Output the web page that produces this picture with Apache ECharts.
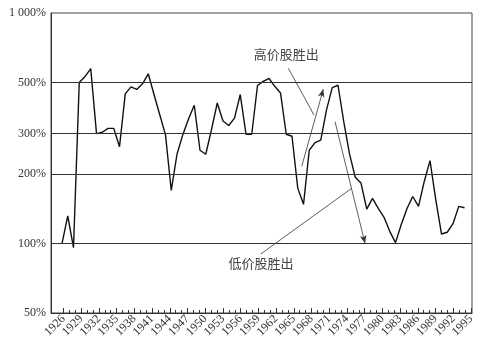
<!DOCTYPE html>
<html>
<head>
<meta charset="utf-8">
<script src="https://cdn.jsdelivr.net/npm/echarts@6/dist/echarts.min.js"></script>
<style>html,body{margin:0;padding:0;background:#fff;}#c{width:490px;height:346px;}</style>
</head>
<body>
<div id="c"></div>
<script>
// Data: ratio (%) by year
var years = [1926,1927,1928,1929,1930,1931,1932,1933,1934,1935,1936,1937,1938,1939,1940,1941,1942,1943,1944,1945,
  1946,1947,1948,1949,1950,1951,1952,1953,1954,1955,1956,1957,1958,1959,1960,1961,1962,1963,1964,1965,
  1966,1967,1968,1969,1970,1971,1972,1973,1974,1975,1976,1977,1978,1979,1980,1981,1982,1983,1984,1985,
  1986,1987,1988,1989,1990,1991,1992,1993,1994,1995,1996];
var values = [100,132,96,500,530,574,300,304,316,316,263,446,478,466,493,545,443,362,296,170,
  244,296,347,398,254,244,312,407,340,325,350,443,298,298,485,505,520,481,450,298,
  292,174,148,254,274,281,380,475,486,338,245,194,183,141,157,142,130,113,101,121,
  142,160,145,186,229,155,110,112,122,145,143];
var tickYears = [1926,1927,1928,1929,1930,1931,1932,1933,1934,1935,1936,1937,1938,1939,1940,1941,1942,1943,1944,1945,
  1946,1947,1948,1949,1950,1951,1952,1953,1954,1955,1956,1957,1958,1959,1960,1961,1962,1963,1964,1965,
  1966,1967,1968,1969,1970,1971,1972,1973,1974,1975,1976,1977,1978,1979,1980,1981,1982,1983,1984,1985,
  1986,1987,1988,1989,1990,1991,1992,1993,1994,1995];
var labelYears = [1926,1929,1932,1935,1938,1941,1944,1947,1950,1953,1956,1959,1962,1965,1968,1971,1974,1977,1980,1983,1986,1989,1992,1995];
var yTickValues = [50,100,200,300,500,1000];
var gridValues = [100,200,300,500];
var annotHigh = {text:'高价股胜出', at:[1965.0,664], leader:[[1965.36,576],[1969.83,361]], arrow:[[1967.69,216],[1971.44,467]]};
var annotLow = {text:'低价股胜出', at:[1960.6,82.4], leader:[[1960.56,90.1],[1976.38,173.7]], arrow:[[1973.48,338],[1978.7,100.3]]};

var seriesData = years.map(function(y,i){return [y, values[i]];});
var serif = 'Liberation Serif';
var cjk = 'Noto Sans CJK SC';

var chart = echarts.init(document.getElementById('c'), null, {renderer:'canvas'});
chart.setOption({
  animation:false,
  backgroundColor:'#fff',
  grid:{left:51,right:18,top:13,bottom:33,show:true,borderColor:'#444',borderWidth:1,backgroundColor:'transparent'},
  xAxis:[
    {type:'value',min:1923.884,max:1995.17,position:'bottom',
     axisLine:{show:true,lineStyle:{color:'#333',width:1}},
     axisTick:{show:true,inside:true,length:5,customValues:labelYears,lineStyle:{color:'#333'}},
     axisLabel:{show:true,customValues:labelYears,rotate:45,margin:4,fontFamily:serif,fontSize:12,color:'#333',formatter:function(v){return String(v);}},
     splitLine:{show:false}},
    {type:'value',min:1923.884,max:1995.17,position:'bottom',
     axisLine:{show:false},
     axisTick:{show:true,inside:true,length:3,customValues:tickYears,lineStyle:{color:'#333'}},
     axisLabel:{show:false},splitLine:{show:false}},
    {type:'value',min:1924.087,max:1997.304,show:false,splitLine:{show:false}}
  ],
  yAxis:{type:'log',logBase:10,min:50,max:1000,
    axisLine:{show:true,lineStyle:{color:'#333',width:1}},
    axisTick:{show:false},
    axisLabel:{customValues:yTickValues,fontFamily:serif,fontSize:12,color:'#333',margin:5,
      formatter:function(v){return v===1000?'1 000%':(v+'%');}},
    splitLine:{show:false}},
  series:[{
    type:'line',xAxisIndex:2,yAxisIndex:0,data:seriesData,showSymbol:false,symbol:'none',
    lineStyle:{color:'#111',width:1.4},
    silent:true,
    markLine:{silent:true,symbol:['none','none'],animation:false,
      label:{show:false},emphasis:{disabled:true},
      lineStyle:{color:'#333',width:1,type:'solid'},
      data:gridValues.map(function(v){return {yAxis:v};}).concat([
        [{coord:annotHigh.leader[0],lineStyle:{width:0.8}},{coord:annotHigh.leader[1]}],
        [{coord:annotLow.leader[0],lineStyle:{width:0.8}},{coord:annotLow.leader[1]}],
        [{coord:annotHigh.arrow[0],symbol:'none',lineStyle:{width:0.8}},{coord:annotHigh.arrow[1],symbol:'arrow',symbolSize:[5,8]}],
        [{coord:annotLow.arrow[0],symbol:'none',lineStyle:{width:0.8}},{coord:annotLow.arrow[1],symbol:'arrow',symbolSize:[5,8]}]
      ])},
    markPoint:{silent:true,symbol:'circle',symbolSize:1,itemStyle:{color:'rgba(0,0,0,0)'},
      label:{show:true,position:'inside',formatter:'{b}',fontFamily:cjk,fontSize:13,color:'#444'},
      data:[{name:annotHigh.text,coord:annotHigh.at},{name:annotLow.text,coord:annotLow.at}]}
  }]
});
</script>
</body>
</html>
